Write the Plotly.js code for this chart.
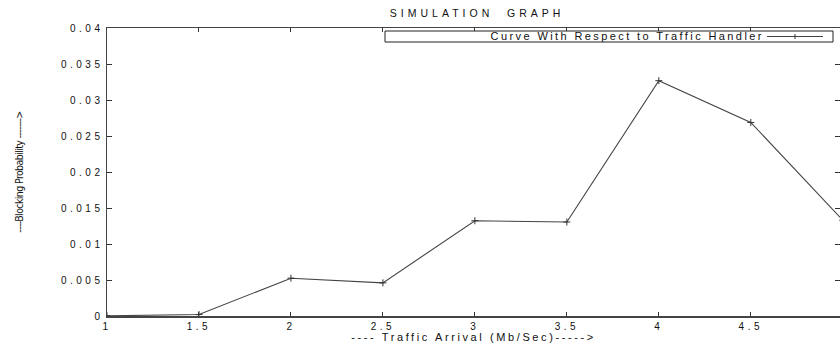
<!DOCTYPE html>
<html>
<head>
<meta charset="utf-8">
<script src="https://cdn.plot.ly/plotly-3.0.1.min.js"></script>
<style>
html,body{margin:0;padding:0;background:#fff;}
#chart{width:840px;height:347px;}
#chart .xtick text, #chart .ytick text{letter-spacing:3.5px;}
#chart .gtitle{letter-spacing:4px;}
#chart .xtitle{letter-spacing:2.6px;}
#chart .ytitle{font-stretch:condensed;letter-spacing:-0.6px;}
#chart .annotation-text{letter-spacing:2.4px;}
</style>
</head>
<body>
<div id="chart"></div>
<script>
const trafficArrival = [1, 1.5, 2, 2.5, 3, 3.5, 4, 4.5, 5];
const blockingProbability = [0.00003, 0.0002, 0.00525, 0.0046, 0.01323, 0.01305, 0.03268, 0.02688, 0.0133];
const xTicks = [1, 1.5, 2, 2.5, 3, 3.5, 4, 4.5];
const yTicks = [0, 0.005, 0.01, 0.015, 0.02, 0.025, 0.03, 0.035, 0.04];
const seriesName = 'Curve With Respect to Traffic Handler';

const W = 840, H = 347, ML = 107, MR = 0, MT = 28, MB = 31;
const plotW = W - ML - MR, plotH = H - MT - MB;
const px = v => (v - ML) / plotW;          // pixel x -> paper x
const py = v => (H - MB - v) / plotH;      // pixel y -> paper y

const baseFont = 'Liberation Sans, Arial, Helvetica, sans-serif';
const tickFont = {family: baseFont, size: 10, color: '#111'};
const ink = '#333';

const trace = {
  x: trafficArrival,
  y: blockingProbability,
  type: 'scatter',
  mode: 'lines+markers',
  name: seriesName,
  showlegend: false,
  line: {color: '#444', width: 1.1},
  marker: {symbol: 'cross-thin', size: 5, line: {color: '#333', width: 1}}
};

// gnuplot-style legend box: text followed by a line sample with a '+'
const legY = 36.5;
const layout = {
  width: W, height: H,
  margin: {l: ML, r: MR, t: MT, b: MB},
  paper_bgcolor: '#fff', plot_bgcolor: '#fff',
  title: {text: 'SIMULATION  GRAPH', font: {family: baseFont, size: 10.5, color: '#111'},
          x: 0.568, xanchor: 'center', y: 1 - 13.5 / H, yanchor: 'middle'},
  showlegend: false,
  xaxis: {
    range: [1, 4.985], tickvals: xTicks,
    ticks: 'inside', ticklen: 4, tickcolor: ink, tickwidth: 1,
    showline: true, linecolor: '#444', linewidth: 1.5, mirror: 'ticks',
    showgrid: false, zeroline: false,
    tickfont: tickFont,
    title: {text: '---- Traffic Arrival (Mb/Sec)----->', font: {family: baseFont, size: 11, color: '#111'}, standoff: 2}
  },
  yaxis: {
    range: [0, 0.04], tickvals: yTicks,
    ticks: 'inside', ticklen: 5, tickcolor: ink, tickwidth: 1,
    showline: true, linecolor: '#444', linewidth: 1.5, mirror: 'ticks',
    showgrid: false, zeroline: false,
    tickfont: tickFont,
    title: {text: '----Blocking Probability ------->', font: {family: 'DejaVu Sans Condensed, DejaVu Sans, sans-serif', size: 10.5, color: '#111'}, standoff: 53}
  },
  shapes: [
    {type: 'rect', xref: 'paper', yref: 'paper', x0: px(385), x1: px(833), y0: py(42), y1: py(31),
     line: {color: '#222', width: 1}, fillcolor: '#fff', layer: 'above'},
    {type: 'line', xref: 'paper', yref: 'paper', x0: px(767), x1: px(823), y0: py(legY), y1: py(legY),
     line: {color: '#444', width: 1}, layer: 'above'},
    {type: 'line', xref: 'paper', yref: 'paper', x0: px(795), x1: px(795), y0: py(legY + 2.5), y1: py(legY - 2.5),
     line: {color: '#333', width: 1}, layer: 'above'}
  ],
  annotations: [
    {text: seriesName, xref: 'paper', yref: 'paper', x: px(627), y: py(legY), xanchor: 'center', yanchor: 'middle',
     showarrow: false, font: {family: baseFont, size: 11, color: '#111'}}
  ]
};

Plotly.newPlot('chart', [trace], layout, {displayModeBar: false, staticPlot: true});
</script>
</body>
</html>
